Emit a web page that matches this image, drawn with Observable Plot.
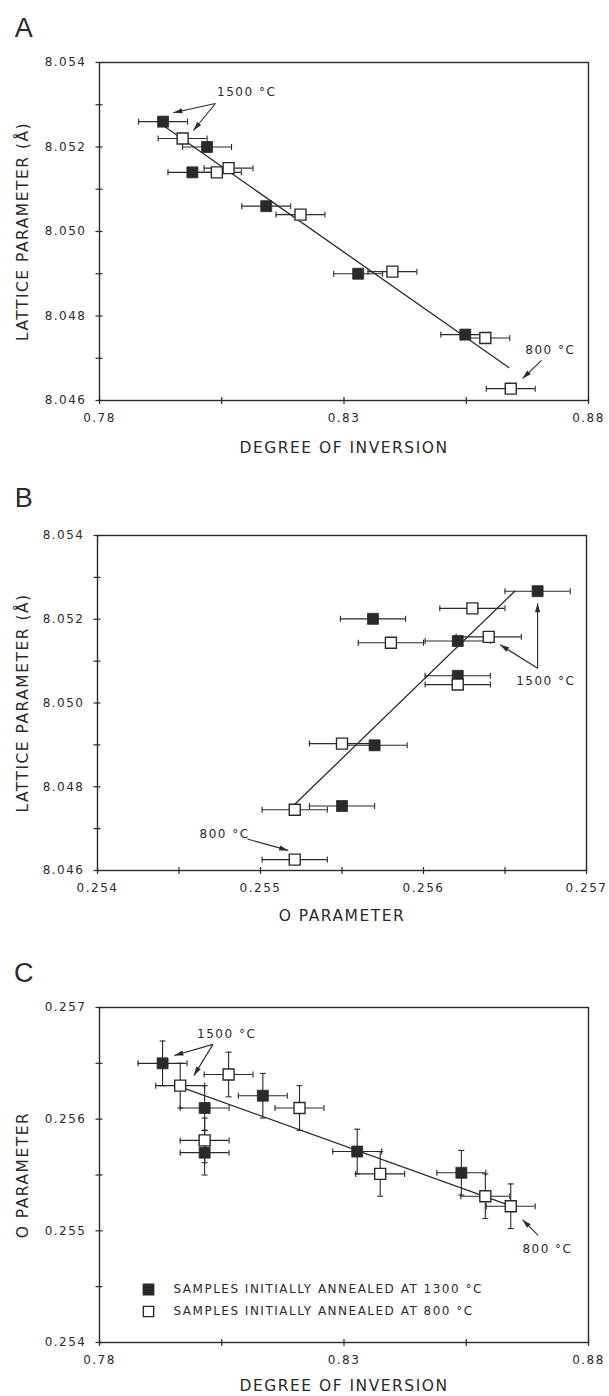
<!DOCTYPE html>
<html><head><meta charset="utf-8">
<script src="https://cdn.jsdelivr.net/npm/d3@7"></script>
<script src="https://cdn.jsdelivr.net/npm/@observablehq/plot@0.6"></script>
<style>
body{margin:0;background:#fff;}
#chart{width:609px;}
#chart svg{display:block;overflow:visible;}
#chart svg text{letter-spacing:1.5px;}
</style></head><body><div id="chart"></div>
<script>
// ---------- Panel A: lattice parameter vs degree of inversion ----------
const aFilledInv = [0.7930, 0.8020, 0.7990, 0.8141, 0.8329, 0.8548];
const aFilledLat = [8.0526, 8.0520, 8.0514, 8.0506, 8.0490, 8.04756];
const aOpenInv = [0.7970, 0.8040, 0.8064, 0.8211, 0.8399, 0.8589, 0.8641];
const aOpenLat = [8.0522, 8.0514, 8.0515, 8.0504, 8.04905, 8.04748, 8.04628];
const aFitInv = [0.7925, 0.8637];
const aFitLat = [8.05255, 8.04678];
const aNotes = [{text: "1500 °C", x: 0.8101, y: 8.05329}, {text: "800 °C", x: 0.8722, y: 8.04719}];
const aArrows = [
  {x1: 0.8037, y1: 8.05303, x2: 0.7951, y2: 8.05281},
  {x1: 0.8037, y1: 8.05303, x2: 0.7992, y2: 8.05239},
  {x1: 0.8704, y1: 8.04695, x2: 0.8665, y2: 8.04652}
];

// ---------- Panel B: lattice parameter vs O parameter ----------
const bFilledO = [0.25670, 0.25569, 0.25621, 0.25621, 0.25570, 0.25550];
const bFilledLat = [8.05267, 8.05201, 8.05148, 8.05065, 8.04899, 8.04754];
const bOpenO = [0.25630, 0.25580, 0.25640, 0.25621, 0.25550, 0.25521, 0.25521];
const bOpenLat = [8.05226, 8.05144, 8.05158, 8.05044, 8.04903, 8.04745, 8.04626];
const bFitO = [0.25521, 0.25656];
const bFitLat = [8.04758, 8.05267];
const bNotes = [{text: "1500 °C", x: 0.25675, y: 8.05053}, {text: "800 °C", x: 0.25478, y: 8.04687}];
const bArrows = [
  {x1: 0.25670, y1: 8.05083, x2: 0.25670, y2: 8.05238},
  {x1: 0.25670, y1: 8.05083, x2: 0.25647, y2: 8.05139},
  {x1: 0.25492, y1: 8.04675, x2: 0.25517, y2: 8.04648}
];

// ---------- Panel C: O parameter vs degree of inversion ----------
const cFilledInv = [0.7929, 0.8015, 0.8015, 0.8134, 0.8327, 0.8540];
const cFilledO = [0.25650, 0.25610, 0.25570, 0.25621, 0.25571, 0.25552];
const cOpenInv = [0.7965, 0.8064, 0.8015, 0.8209, 0.8374, 0.8589, 0.8641];
const cOpenO = [0.25630, 0.25640, 0.25581, 0.25610, 0.25551, 0.25531, 0.25522];
const cFitInv = [0.7965, 0.8637];
const cFitO = [0.25629, 0.25523];
const cNotes = [{text: "1500 °C", x: 0.8060, y: 0.25676}, {text: "800 °C", x: 0.8716, y: 0.25484}];
const cArrows = [
  {x1: 0.8032, y1: 0.25667, x2: 0.7953, y2: 0.25657},
  {x1: 0.8032, y1: 0.25667, x2: 0.7993, y2: 0.25639},
  {x1: 0.8697, y1: 0.25496, x2: 0.8665, y2: 0.25510}
];

// error bar half-widths
const invErr = 0.005;
const oErr = 0.0002;

// ticks
const invTicks = [0.78, 0.805, 0.83, 0.855, 0.88];
const invLabels = [0.78, 0.83, 0.88];
const latTicks = [8.046, 8.047, 8.048, 8.049, 8.050, 8.051, 8.052, 8.053, 8.054];
const latLabels = [8.046, 8.048, 8.050, 8.052, 8.054];
const oTicks = [0.254, 0.2545, 0.255, 0.2555, 0.256, 0.2565, 0.257];
const oLabels = [0.254, 0.255, 0.256, 0.257];

const legendLabels = ["SAMPLES INITIALLY ANNEALED AT 1300 °C", "SAMPLES INITIALLY ANNEALED AT 800 °C"];

// ---------- drawing ----------
const INK = "#2a2a2a";
const vTick = {draw(c){c.moveTo(0,-3.5);c.lineTo(0,3.5);}};
const hTick = {draw(c){c.moveTo(-4,0);c.lineTo(3,0);}};
const vCap = {draw(c){c.moveTo(0,-3);c.lineTo(0,3);}};
const hCap = {draw(c){c.moveTo(-3,0);c.lineTo(3,0);}};
const head = {draw(c){c.moveTo(0,0);c.lineTo(-2.6,9);c.lineTo(2.6,9);c.closePath();}};

const zip = (xs, ys) => xs.map((x, i) => ({x, y: ys[i]}));

function makePanel(p) {
  const filled = zip(p.fx, p.fy);
  const open = zip(p.ox, p.oy);
  const all = filled.concat(open);
  const fit = zip(p.lx, p.ly);
  const base = {
    width: 609, height: p.height,
    marginTop: p.mt, marginBottom: p.mb, marginLeft: p.ml, marginRight: p.mr,
    x: {domain: p.xDomain, axis: null},
    y: {domain: p.yDomain, axis: null},
    style: {fontFamily: "DejaVu Sans", fontSize: "12px", color: INK, background: "transparent", overflow: "visible"}
  };
  const probe = Plot.plot({...base, marks: [Plot.line(fit, {x: "x", y: "y"})]});
  const sx = probe.scale("x"), sy = probe.scale("y");
  const angle = a => {
    const dx = sx.apply(a.x2) - sx.apply(a.x1);
    const dy = sy.apply(a.y2) - sy.apply(a.y1);
    return Math.atan2(dx, -dy) * 180 / Math.PI;
  };
  const marks = [
    Plot.frame({stroke: INK, strokeWidth: 1.4}),
    Plot.dot(p.xTicks, {x: d => d, frameAnchor: "bottom", symbol: vTick, stroke: INK, strokeWidth: 1.2}),
    Plot.dot(p.yTicks, {y: d => d, frameAnchor: "left", symbol: hTick, stroke: INK, strokeWidth: 1.2}),
    Plot.axisX({ticks: p.xLabels, tickSize: 0, tickPadding: 13, tickFormat: d3.format(p.xFmt), label: null, fontSize: 12, fill: INK}),
    Plot.axisY({ticks: p.yLabels, tickSize: 0, tickPadding: 13, tickFormat: d3.format(p.yFmt), label: null, fontSize: 12, fill: INK}),
    Plot.text([p.letter], {frameAnchor: "top-left", dx: 24 - p.ml, dy: p.letterDy, text: d => d, textAnchor: "middle", lineAnchor: "middle", fontSize: 27, fontFamily: "Liberation Sans", fill: INK}),
    Plot.text([p.xTitle], {frameAnchor: "bottom", dy: p.xTitleDy, text: d => d, textAnchor: "middle", lineAnchor: "middle", fontSize: 15.5, fill: INK}),
    Plot.text([p.yTitle], {frameAnchor: "left", dx: 23 - p.ml, rotate: -90, text: d => d, textAnchor: "middle", lineAnchor: "middle", fontSize: 15.5, fill: INK}),
    Plot.line(fit, {x: "x", y: "y", stroke: INK, strokeWidth: 1.3}),
    // horizontal error bars
    Plot.ruleY(all, {y: "y", x1: d => d.x - p.ex, x2: d => d.x + p.ex, stroke: INK, strokeWidth: 1.1}),
    Plot.dot(all, {x: d => d.x - p.ex, y: "y", symbol: vCap, stroke: INK, strokeWidth: 1.1}),
    Plot.dot(all, {x: d => d.x + p.ex, y: "y", symbol: vCap, stroke: INK, strokeWidth: 1.1})
  ];
  if (p.ey) {
    marks.push(
      Plot.ruleX(all, {x: "x", y1: d => d.y - p.ey, y2: d => d.y + p.ey, stroke: INK, strokeWidth: 1.1}),
      Plot.dot(all, {x: "x", y: d => d.y - p.ey, symbol: hCap, stroke: INK, strokeWidth: 1.1}),
      Plot.dot(all, {x: "x", y: d => d.y + p.ey, symbol: hCap, stroke: INK, strokeWidth: 1.1})
    );
  }
  marks.push(
    Plot.dot(filled, {x: "x", y: "y", symbol: "square", r: 6.2, fill: INK, stroke: INK, strokeWidth: 0.8}),
    Plot.dot(open, {x: "x", y: "y", symbol: "square", r: 6.2, fill: "white", stroke: INK, strokeWidth: 1.4}),
    Plot.text(p.notes, {x: "x", y: "y", text: "text", fontSize: 12, fill: INK}),
    Plot.link(p.arrows, {x1: "x1", y1: "y1", x2: "x2", y2: "y2", stroke: INK, strokeWidth: 1.1}),
    Plot.dot(p.arrows, {x: "x2", y: "y2", symbol: head, rotate: angle, fill: INK, stroke: "none"})
  );
  if (p.legend) {
    marks.push(
      Plot.dot([0], {frameAnchor: "bottom-left", dx: 49, dy: -53, symbol: "square", r: 5.8, fill: INK, stroke: INK}),
      Plot.dot([0], {frameAnchor: "bottom-left", dx: 49, dy: -31, symbol: "square", r: 5.8, fill: "white", stroke: INK, strokeWidth: 1.4}),
      Plot.text([p.legend[0]], {frameAnchor: "bottom-left", dx: 74, dy: -53, text: d => d, textAnchor: "start", lineAnchor: "middle", fontSize: 12, fill: INK}),
      Plot.text([p.legend[1]], {frameAnchor: "bottom-left", dx: 74, dy: -31, text: d => d, textAnchor: "start", lineAnchor: "middle", fontSize: 12, fill: INK})
    );
  }
  return Plot.plot({...base, marks});
}

const chart = document.getElementById("chart");
chart.append(makePanel({
  height: 470, mt: 62, mb: 70, ml: 99, mr: 21,
  xDomain: [0.78, 0.88], yDomain: [8.046, 8.054],
  fx: aFilledInv, fy: aFilledLat, ox: aOpenInv, oy: aOpenLat, lx: aFitInv, ly: aFitLat,
  ex: invErr, ey: 0,
  xTicks: invTicks, xLabels: invLabels, xFmt: ".2f",
  yTicks: latTicks, yLabels: latLabels, yFmt: ".3f",
  letter: "A", letterDy: -34, xTitle: "DEGREE OF INVERSION", xTitleDy: 48, yTitle: "LATTICE PARAMETER (Å)",
  notes: aNotes, arrows: aArrows
}));
chart.append(makePanel({
  height: 460, mt: 65, mb: 60, ml: 97, mr: 23,
  xDomain: [0.254, 0.257], yDomain: [8.046, 8.054],
  fx: bFilledO, fy: bFilledLat, ox: bOpenO, oy: bOpenLat, lx: bFitO, ly: bFitLat,
  ex: oErr, ey: 0,
  xTicks: oTicks, xLabels: oLabels, xFmt: ".3f",
  yTicks: latTicks, yLabels: latLabels, yFmt: ".3f",
  letter: "B", letterDy: -37, xTitle: "O PARAMETER", xTitleDy: 46, yTitle: "LATTICE PARAMETER (Å)",
  notes: bNotes, arrows: bArrows
}));
chart.append(makePanel({
  height: 466, mt: 77, mb: 54, ml: 99, mr: 21,
  xDomain: [0.78, 0.88], yDomain: [0.254, 0.257],
  fx: cFilledInv, fy: cFilledO, ox: cOpenInv, oy: cOpenO, lx: cFitInv, ly: cFitO,
  ex: invErr, ey: oErr,
  xTicks: invTicks, xLabels: invLabels, xFmt: ".2f",
  yTicks: oTicks, yLabels: oLabels, yFmt: ".3f",
  letter: "C", letterDy: -34, xTitle: "DEGREE OF INVERSION", xTitleDy: 44, yTitle: "O PARAMETER",
  notes: cNotes, arrows: cArrows, legend: legendLabels
}));
</script></body></html>
